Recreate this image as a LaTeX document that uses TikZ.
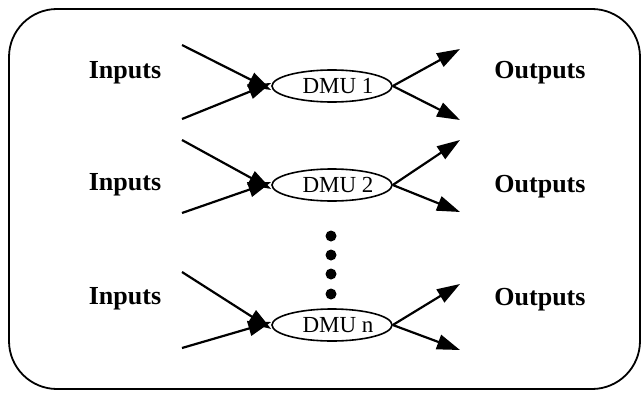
\documentclass[tikz,border=0pt]{standalone}
\usepackage{fontspec}
\setmainfont{Liberation Serif}
\usetikzlibrary{arrows.meta,shapes.geometric}
\begin{document}
\begin{tikzpicture}[x=1pt,y=-1pt,
  lbl/.style={font=\bfseries\fontsize{26}{28}\selectfont, inner sep=0pt},
  dmu/.style={ellipse, draw, line width=1.6pt, minimum width=120pt, minimum height=32pt, inner sep=0pt, font=\fontsize{23}{25}\selectfont},
  arr/.style={line width=2.2pt, -{Triangle[length=23pt,width=15pt]}},
  dotnode/.style={circle, fill=black, minimum size=11pt, inner sep=0pt}
]
\useasboundingbox (0,0) rectangle (644,396);
\draw[line width=1.8pt, rounded corners=48pt] (9,9) rectangle (640,389);

% Row 1
\node[dmu] (E1) at (332,86) {\hspace*{12pt}DMU 1};
\node[lbl] (I1) at (125,73) {Inputs};
\node[lbl] (O1) at (540,73) {Outputs};
\coordinate (a1) at (182,45);
\coordinate (b1) at (182,119);
\coordinate (c1) at (460,49);
\coordinate (d1) at (460,120);
\draw[arr] (a1) -- ([yshift=-4pt]E1.west);
\draw[arr] (b1) -- ([yshift=3pt]E1.west);
\draw[arr] (E1.east) -- (c1);
\draw[arr] (E1.east) -- (d1);

% Row 2
\node[dmu] (E2) at (332,185) {\hspace*{12pt}DMU 2};
\node[lbl] (I2) at (125,185) {Inputs};
\node[lbl] (O2) at (540,187) {Outputs};
\coordinate (a2) at (182,140);
\coordinate (b2) at (182,213);
\coordinate (c2) at (460,140);
\coordinate (d2) at (460,212);
\draw[arr] (a2) -- ([yshift=-4pt]E2.west);
\draw[arr] (b2) -- ([yshift=3pt]E2.west);
\draw[arr] (E2.east) -- (c2);
\draw[arr] (E2.east) -- (d2);

% dots
\node[dotnode] (p1) at (331,236) {};
\node[dotnode] (p2) at (331,255) {};
\node[dotnode] (p3) at (331,274) {};
\node[dotnode] (p4) at (331,294) {};

% Row 3
\node[dmu] (E3) at (332,325) {\hspace*{12pt}DMU n};
\node[lbl] (I3) at (125,299) {Inputs};
\node[lbl] (O3) at (540,300) {Outputs};
\coordinate (a3) at (182,272);
\coordinate (b3) at (182,348);
\coordinate (c3) at (460,284);
\coordinate (d3) at (460,350);
\draw[arr] (a3) -- ([yshift=-4pt]E3.west);
\draw[arr] (b3) -- ([yshift=3pt]E3.west);
\draw[arr] (E3.east) -- (c3);
\draw[arr] (E3.east) -- (d3);
\end{tikzpicture}
\end{document}
